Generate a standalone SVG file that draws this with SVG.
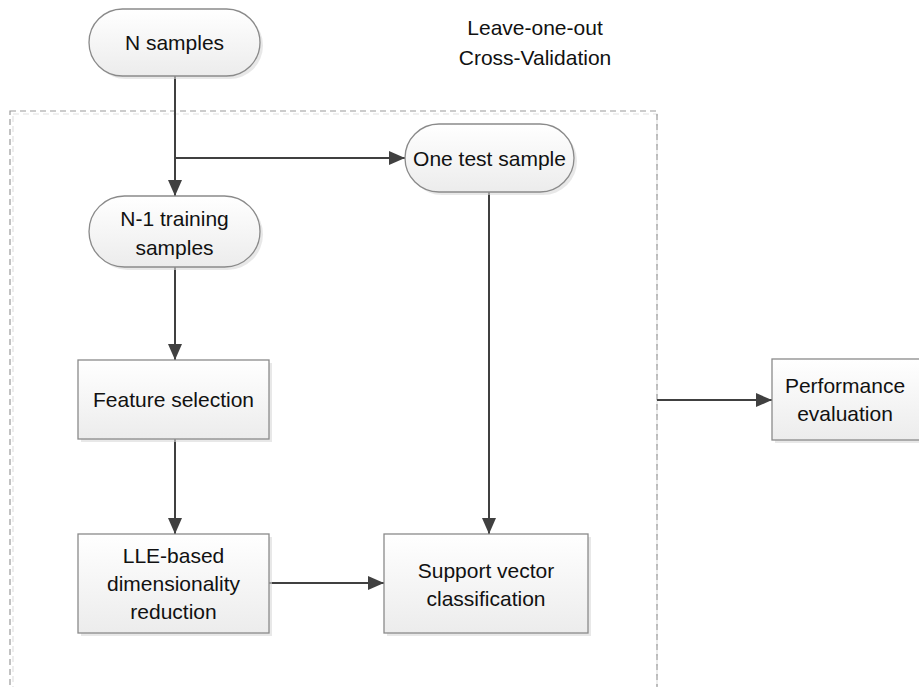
<svg xmlns="http://www.w3.org/2000/svg" width="919" height="687" viewBox="0 0 919 687">
  <style>
    .shape { fill: url(#fillGrad); stroke: #8a8a8a; stroke-width: 1.3; }
    .shadow { fill: #d9d9d9; opacity: 0.6; }
    .label { font-family: "Liberation Sans", "Open Sans", sans-serif; font-size: 21px; fill: #111111; text-anchor: middle; }
    .conn { stroke: #404040; stroke-width: 2; fill: none; }
  </style>
  <defs>
    <linearGradient id="fillGrad" x1="0" y1="0" x2="0" y2="1">
      <stop offset="0" stop-color="#ffffff"/>
      <stop offset="1" stop-color="#ececec"/>
    </linearGradient>
    <marker id="arrow" viewBox="0 0 16 14" refX="16" refY="7" markerWidth="16" markerHeight="14" markerUnits="userSpaceOnUse" orient="auto">
      <path d="M0,0 L16,7 L0,14 Z" fill="#404040"/>
    </marker>
  </defs>
  <rect width="919" height="687" fill="#ffffff"/>

  <!-- loop boundary -->
  <g id="loop-frame">
    <rect x="13" y="114" width="644" height="600" fill="none" stroke="#e2e2e2" stroke-width="1.2" stroke-dasharray="6,4"/>
    <rect x="10" y="111" width="647" height="600" fill="none" stroke="#9a9a9a" stroke-width="1.2" stroke-dasharray="6,4"/>
    <text class="label" x="535" y="35">Leave-one-out</text>
    <text class="label" x="535" y="65">Cross-Validation</text>
  </g>

  <g id="connectors">
    <line class="conn" x1="175" y1="76" x2="175" y2="196" marker-end="url(#arrow)"/>
    <line class="conn" x1="175" y1="158" x2="405" y2="158" marker-end="url(#arrow)"/>
    <line class="conn" x1="175" y1="267" x2="175" y2="360" marker-end="url(#arrow)"/>
    <line class="conn" x1="175" y1="439" x2="175" y2="534" marker-end="url(#arrow)"/>
    <line class="conn" x1="489" y1="192" x2="489" y2="534" marker-end="url(#arrow)"/>
    <line class="conn" x1="269" y1="583" x2="384" y2="583" marker-end="url(#arrow)"/>
    <line class="conn" x1="657" y1="400" x2="772" y2="400" marker-end="url(#arrow)"/>
  </g>

  <g id="n-samples">
    <rect class="shadow" x="92" y="12" width="171" height="67" rx="33.5"/>
    <rect class="shape" x="89" y="9" width="171" height="67" rx="33.5"/>
    <text class="label" x="174.5" y="50">N samples</text>
  </g>

  <g id="one-test-sample">
    <rect class="shadow" x="408" y="127" width="169" height="68" rx="34"/>
    <rect class="shape" x="405" y="124" width="169" height="68" rx="34"/>
    <text class="label" x="489.5" y="166">One test sample</text>
  </g>

  <g id="training-samples">
    <rect class="shadow" x="92" y="199" width="171" height="71" rx="35.5"/>
    <rect class="shape" x="89" y="196" width="171" height="71" rx="35.5"/>
    <text class="label" x="174.5" y="226">N-1 training</text>
    <text class="label" x="174.5" y="255">samples</text>
  </g>

  <g id="feature-selection">
    <rect class="shadow" x="81" y="363" width="191" height="79"/>
    <rect class="shape" x="78" y="360" width="191" height="79"/>
    <text class="label" x="173.5" y="407">Feature selection</text>
  </g>

  <g id="lle-reduction">
    <rect class="shadow" x="81" y="537" width="191" height="99"/>
    <rect class="shape" x="78" y="534" width="191" height="99"/>
    <text class="label" x="173.5" y="563">LLE-based</text>
    <text class="label" x="173.5" y="591">dimensionality</text>
    <text class="label" x="173.5" y="619">reduction</text>
  </g>

  <g id="svm-classification">
    <rect class="shadow" x="387" y="537" width="204" height="99"/>
    <rect class="shape" x="384" y="534" width="204" height="99"/>
    <text class="label" x="486" y="578">Support vector</text>
    <text class="label" x="486" y="606">classification</text>
  </g>

  <g id="performance-evaluation">
    <rect class="shadow" x="775" y="362" width="150" height="81"/>
    <rect class="shape" x="772" y="359" width="150" height="81"/>
    <text class="label" x="845" y="393">Performance</text>
    <text class="label" x="845" y="421">evaluation</text>
  </g>
</svg>
